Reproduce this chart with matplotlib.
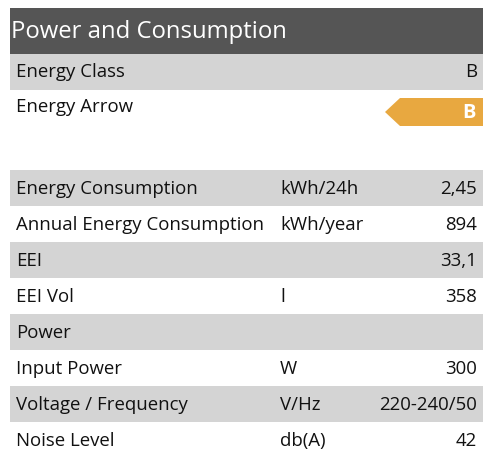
import matplotlib
matplotlib.use("Agg")
import matplotlib.pyplot as plt
from matplotlib.patches import Rectangle, Polygon

plt.rcParams['font.family'] = ['Open Sans', 'DejaVu Sans']

title = "Power and Consumption"
top_labels = ["Energy Class", "Energy Arrow"]
energy_class = "B"
labels = ["Energy Consumption", "Annual Energy Consumption", "EEI", "EEI Vol",
          "Power", "Input Power", "Voltage / Frequency", "Noise Level"]
units = ["kWh/24h", "kWh/year", "", "l", "", "W", "V/Hz", "db(A)"]
values = ["2,45", "894", "33,1", "358", "", "300", "220-240/50", "42"]

W, H = 483, 453
fig = plt.figure(figsize=(W / 100, H / 100), dpi=100)
ax = fig.add_axes([0, 0, 1, 1])
ax.set_xlim(0, W)
ax.set_ylim(H, 0)
ax.axis('off')

GRAY = '#d4d4d4'
DARK = '#555555'
TXT = '#111111'
ORANGE = '#e8a840'
FS = 13.4
x0 = 10
rh = 36

# title bar
ax.add_patch(Rectangle((x0, 8), W - x0, 46, color=DARK, lw=0))
ax.text(11, 31.5, title, color='white', fontsize=17.2, va='center', ha='left')

# energy class row
ax.add_patch(Rectangle((x0, 54), W - x0, rh, color=GRAY, lw=0))
ax.text(16, 72, top_labels[0], fontsize=FS, color=TXT, va='center')
ax.text(477, 72, energy_class, fontsize=FS, color=TXT, va='center', ha='right')

# energy arrow row
ax.text(16, 107, top_labels[1], fontsize=FS, color=TXT, va='center')
ax.add_patch(Polygon([(385, 112), (400, 98), (W, 98), (W, 126), (400, 126)],
                     closed=True, color=ORANGE, lw=0))
ax.text(469, 113, energy_class, fontsize=14.5, color='white', fontweight='bold',
        va='center', ha='center')

# main table
y_start = 170
for i, (lab, un, val) in enumerate(zip(labels, units, values)):
    y = y_start + i * rh
    if i % 2 == 0:
        ax.add_patch(Rectangle((x0, y), W - x0, rh, color=GRAY, lw=0))
    yc = y + rh / 2 + 1
    ax.text(16, yc, lab, fontsize=FS, color=TXT, va='center')
    ax.text(280, yc, un, fontsize=FS, color=TXT, va='center')
    ax.text(477, yc, val, fontsize=FS, color=TXT, va='center', ha='right')

fig.savefig("out.png", dpi=100)
